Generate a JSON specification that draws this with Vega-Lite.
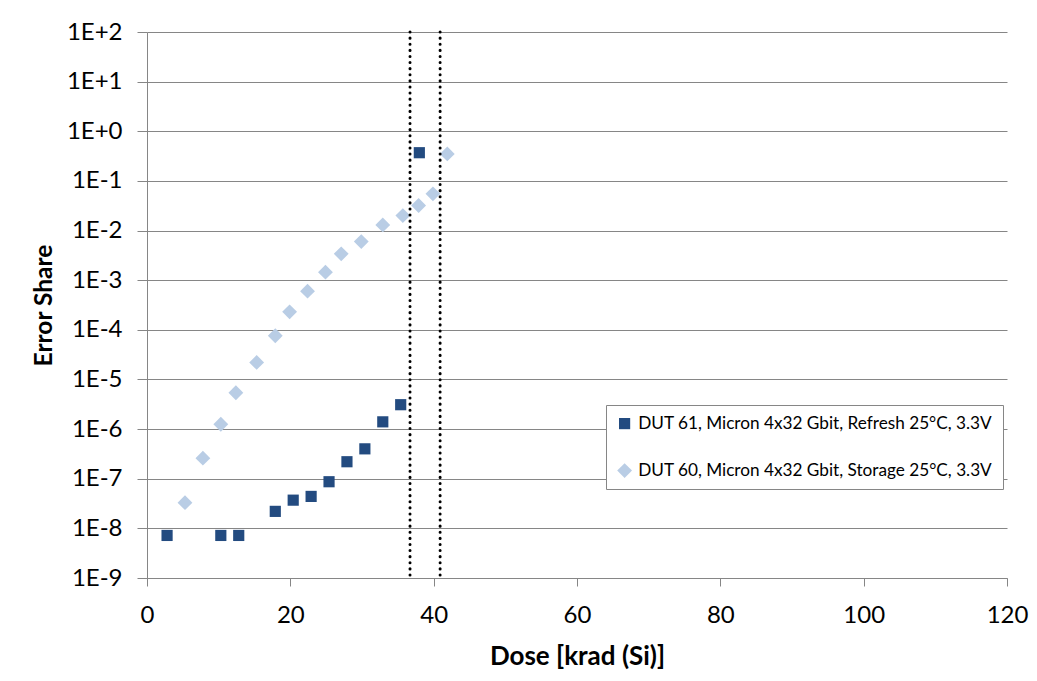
{
  "$schema": "https://vega.github.io/schema/vega-lite/v6.json",
  "width": 860,
  "height": 546,
  "autosize": {"type": "none"},
  "padding": {"left": 147, "top": 32, "right": 30, "bottom": 103},
  "background": "white",
  "config": {
    "font": "Lato",
    "view": {"stroke": null},
    "axis": {"labelFont": "Lato", "titleFont": "Lato", "labelColor": "#000000", "titleColor": "#000000"}
  },
  "datasets": {
    "points": [
      {"series": "DUT 61, Micron 4x32 Gbit, Refresh 25°C, 3.3V", "dose": 2.8, "share": 7.2e-9},
      {"series": "DUT 61, Micron 4x32 Gbit, Refresh 25°C, 3.3V", "dose": 10.3, "share": 7.2e-9},
      {"series": "DUT 61, Micron 4x32 Gbit, Refresh 25°C, 3.3V", "dose": 12.8, "share": 7.2e-9},
      {"series": "DUT 61, Micron 4x32 Gbit, Refresh 25°C, 3.3V", "dose": 17.9, "share": 2.2e-8},
      {"series": "DUT 61, Micron 4x32 Gbit, Refresh 25°C, 3.3V", "dose": 20.4, "share": 3.7e-8},
      {"series": "DUT 61, Micron 4x32 Gbit, Refresh 25°C, 3.3V", "dose": 22.9, "share": 4.4e-8},
      {"series": "DUT 61, Micron 4x32 Gbit, Refresh 25°C, 3.3V", "dose": 25.4, "share": 8.7e-8},
      {"series": "DUT 61, Micron 4x32 Gbit, Refresh 25°C, 3.3V", "dose": 27.9, "share": 2.2e-7},
      {"series": "DUT 61, Micron 4x32 Gbit, Refresh 25°C, 3.3V", "dose": 30.4, "share": 4.0e-7},
      {"series": "DUT 61, Micron 4x32 Gbit, Refresh 25°C, 3.3V", "dose": 32.9, "share": 1.4e-6},
      {"series": "DUT 61, Micron 4x32 Gbit, Refresh 25°C, 3.3V", "dose": 35.4, "share": 3.1e-6},
      {"series": "DUT 61, Micron 4x32 Gbit, Refresh 25°C, 3.3V", "dose": 38.0, "share": 0.37},
      {"series": "DUT 60, Micron 4x32 Gbit, Storage 25°C, 3.3V", "dose": 5.3, "share": 3.3e-8},
      {"series": "DUT 60, Micron 4x32 Gbit, Storage 25°C, 3.3V", "dose": 7.8, "share": 2.6e-7},
      {"series": "DUT 60, Micron 4x32 Gbit, Storage 25°C, 3.3V", "dose": 10.3, "share": 1.25e-6},
      {"series": "DUT 60, Micron 4x32 Gbit, Storage 25°C, 3.3V", "dose": 12.4, "share": 5.4e-6},
      {"series": "DUT 60, Micron 4x32 Gbit, Storage 25°C, 3.3V", "dose": 15.3, "share": 2.2e-5},
      {"series": "DUT 60, Micron 4x32 Gbit, Storage 25°C, 3.3V", "dose": 17.9, "share": 7.6e-5},
      {"series": "DUT 60, Micron 4x32 Gbit, Storage 25°C, 3.3V", "dose": 19.9, "share": 2.3e-4},
      {"series": "DUT 60, Micron 4x32 Gbit, Storage 25°C, 3.3V", "dose": 22.4, "share": 6.0e-4},
      {"series": "DUT 60, Micron 4x32 Gbit, Storage 25°C, 3.3V", "dose": 24.9, "share": 1.45e-3},
      {"series": "DUT 60, Micron 4x32 Gbit, Storage 25°C, 3.3V", "dose": 27.1, "share": 3.4e-3},
      {"series": "DUT 60, Micron 4x32 Gbit, Storage 25°C, 3.3V", "dose": 29.9, "share": 6.0e-3},
      {"series": "DUT 60, Micron 4x32 Gbit, Storage 25°C, 3.3V", "dose": 32.9, "share": 1.3e-2},
      {"series": "DUT 60, Micron 4x32 Gbit, Storage 25°C, 3.3V", "dose": 35.7, "share": 2.0e-2},
      {"series": "DUT 60, Micron 4x32 Gbit, Storage 25°C, 3.3V", "dose": 37.9, "share": 3.2e-2},
      {"series": "DUT 60, Micron 4x32 Gbit, Storage 25°C, 3.3V", "dose": 39.9, "share": 5.5e-2},
      {"series": "DUT 60, Micron 4x32 Gbit, Storage 25°C, 3.3V", "dose": 41.9, "share": 0.35}
    ],
    "limits": [
      {"dose": 36.7},
      {"dose": 40.9}
    ]
  },
  "layer": [
    {
      "data": {"name": "points"},
      "mark": {"type": "point", "filled": true, "opacity": 1},
      "encoding": {
        "x": {
          "field": "dose", "type": "quantitative",
          "scale": {"domain": [0, 120], "nice": false, "zero": false},
          "axis": {
            "title": "Dose [krad (Si)]", "values": [0, 20, 40, 60, 80, 100, 120],
            "grid": false, "domainColor": "#868686", "tickColor": "#868686",
            "tickSize": 8, "labelFontSize": 24, "labelPadding": 17,
            "titleFontSize": 26, "titleFontWeight": "bold", "titlePadding": 16,
            "labelFlush": false
          }
        },
        "y": {
          "field": "share", "type": "quantitative",
          "scale": {"type": "log", "domain": [1e-9, 100], "nice": false},
          "axis": {
            "title": "Error Share",
            "values": [1e-9, 1e-8, 1e-7, 1e-6, 1e-5, 1e-4, 1e-3, 1e-2, 1e-1, 1, 10, 100],
            "labelExpr": "'1E' + (datum.value >= 1 ? '+' : '') + round(log(datum.value)/LN10)",
            "grid": true, "gridColor": "#868686", "gridWidth": 1,
            "domainColor": "#868686", "tickColor": "#868686", "tickSize": 10,
            "labelFontSize": 24, "labelPadding": 15,
            "titleFontSize": 24.5, "titleFontWeight": "bold", "titlePadding": 10
          }
        },
        "color": {
          "field": "series", "type": "nominal",
          "scale": {
            "domain": ["DUT 61, Micron 4x32 Gbit, Refresh 25°C, 3.3V", "DUT 60, Micron 4x32 Gbit, Storage 25°C, 3.3V"],
            "range": ["#234B80", "#B9CDE5"]
          },
          "legend": {
            "title": null, "orient": "none", "legendX": 459, "legendY": 373,
            "strokeColor": "#868686", "fillColor": "white", "padding": 10,
            "labelFontSize": 17.2, "labelFont": "Lato", "rowPadding": 29,
            "symbolOpacity": 1, "labelOffset": 5, "labelLimit": 500,
            "symbolSize": 90
          }
        },
        "shape": {
          "field": "series", "type": "nominal",
          "scale": {
            "domain": ["DUT 61, Micron 4x32 Gbit, Refresh 25°C, 3.3V", "DUT 60, Micron 4x32 Gbit, Storage 25°C, 3.3V"],
            "range": ["square", "diamond"]
          },
          "legend": null
        },
        "size": {
          "field": "series", "type": "nominal",
          "scale": {
            "domain": ["DUT 61, Micron 4x32 Gbit, Refresh 25°C, 3.3V", "DUT 60, Micron 4x32 Gbit, Storage 25°C, 3.3V"],
            "range": [125, 220]
          },
          "legend": null
        }
      }
    },
    {
      "data": {"name": "limits"},
      "mark": {"type": "rule", "color": "black", "strokeWidth": 3, "strokeDash": [0.1, 6], "strokeCap": "round"},
      "encoding": {
        "x": {"field": "dose", "type": "quantitative"}
      }
    }
  ]
}
